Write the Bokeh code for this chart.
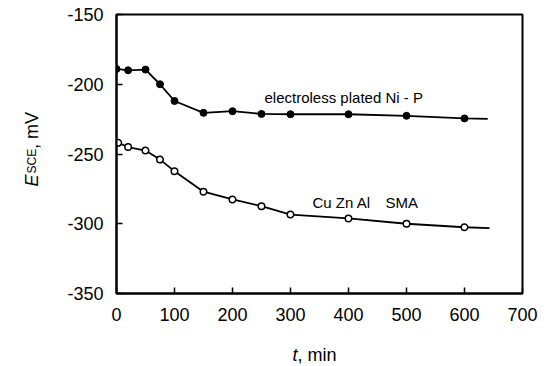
from bokeh.plotting import figure
from bokeh.models import Range1d, Label, FixedTicker
from bokeh.layouts import row, column
from bokeh.embed import file_html
from bokeh.resources import INLINE
import math

# Data
t_nip = [0, 20, 50, 75, 100, 150, 200, 250, 300, 400, 500, 600]
e_nip = [-189, -190, -189.5, -200, -212, -220.5, -219.3, -221.3, -221.5, -221.5, -222.6, -224.5]
t_nip_end = 640
e_nip_end = -224.8

t_sma = [3, 20, 50, 75, 100, 150, 200, 250, 300, 400, 500, 600]
e_sma = [-242, -245, -247.5, -254, -262.3, -277, -282.6, -287.4, -293.4, -296.2, -300, -302.5]
t_sma_end = 643
e_sma_end = -303.2

x_ticks = [0, 100, 200, 300, 400, 500, 600, 700]
y_ticks = [-350, -300, -250, -200, -150]
y_tick_labels = ["-350", "-300", "-250", "-200", "-150"]

FONT = "Liberation Sans"

# ---------------- main plot ----------------
p = figure(width=499, height=340, title=None, frame_align=False,
           min_border_left=71, min_border_right=22, min_border_top=14, min_border_bottom=47,
           x_range=Range1d(0, 700), y_range=Range1d(-350, -150),
           output_backend="svg", toolbar_location=None)
p.background_fill_color = "white"
p.border_fill_color = "white"
p.xgrid.visible = False
p.ygrid.visible = False
p.outline_line_color = "black"
p.outline_line_width = 2
p.outline_line_alpha = 1

for ax in (p.xaxis[0], p.yaxis[0]):
    ax.axis_line_width = 2
    ax.axis_line_color = "black"
    ax.major_tick_in = 6
    ax.major_tick_out = 0
    ax.minor_tick_in = 0
    ax.minor_tick_out = 0
    ax.major_tick_line_width = 1.5
    ax.major_label_text_font = FONT
    ax.major_label_text_font_size = "18px"
    ax.major_label_text_color = "black"

p.xaxis.ticker = FixedTicker(ticks=x_ticks)
p.yaxis.ticker = FixedTicker(ticks=y_ticks)
p.yaxis.major_label_overrides = {v: s for v, s in zip(y_ticks, y_tick_labels)}
p.xaxis.major_label_standoff = 14
p.yaxis.major_label_standoff = 13

p.line(t_nip + [t_nip_end], e_nip + [e_nip_end], line_color="black", line_width=1.8)
p.line(t_sma + [t_sma_end], e_sma + [e_sma_end], line_color="black", line_width=1.8)
p.scatter(t_nip, e_nip, marker="circle", size=7, fill_color="black", line_color="black")
p.scatter(t_sma, e_sma, marker="circle", size=6.5, fill_color="white", line_color="black", line_width=1.5)

# page pixel -> data, for in-frame annotations
def dx(px):
    return (px - 117) * 700 / 406

def dy(py):
    return -150 - (py - 15) * 200 / 279

for txt, px, py in [("electroless plated Ni - P", 265, 98), ("Cu Zn Al", 313, 203), ("SMA", 386, 203)]:
    p.add_layout(Label(x=dx(px), y=dy(py), text=txt, text_font=FONT, text_font_size="15px",
                       text_baseline="middle", text_align="left", text_color="black"))

# ---------------- helper figures for axis titles ----------------
def blank(w, h):
    f = figure(width=w, height=h, title=None, frame_align=False,
               x_range=Range1d(0, w), y_range=Range1d(0, h),
               min_border=0, min_border_left=0, min_border_right=0,
               min_border_top=0, min_border_bottom=0,
               x_axis_location=None, y_axis_location=None,
               output_backend="svg", toolbar_location=None)
    f.xgrid.visible = False
    f.ygrid.visible = False
    f.outline_line_color = None
    f.background_fill_color = "white"
    f.border_fill_color = "white"
    return f

# y title
yf = blank(45, 340)
bx = 32 - 1
def yy(py):
    return 341 - py
yf.add_layout(Label(x=bx, y=yy(187), text="E", text_font=FONT, text_font_style="italic",
                    text_font_size="18px", angle=math.pi / 2, text_align="left",
                    text_baseline="alphabetic", text_color="black"))
yf.add_layout(Label(x=bx, y=yy(174), text="SCE", text_font=FONT, text_font_size="12px",
                    angle=math.pi / 2, text_align="left",
                    text_baseline="alphabetic", text_color="black"))
yf.add_layout(Label(x=bx, y=yy(149.5), text=", mV", text_font=FONT, text_font_size="18px",
                    angle=math.pi / 2, text_align="left",
                    text_baseline="alphabetic", text_color="black"))

# x title
xf = blank(544, 24)
xbase = 10
xf.add_layout(Label(x=293 - 1, y=xbase, text="t", text_font=FONT, text_font_style="italic",
                    text_font_size="18px", text_align="left", text_baseline="alphabetic", text_color="black"))
xf.add_layout(Label(x=298 - 1, y=xbase, text=", min", text_font=FONT, text_font_size="18px",
                    text_align="left", text_baseline="alphabetic", text_color="black"))

layout = column(row(yf, p, spacing=0), xf, spacing=0)

open("out.html", "w").write(file_html(layout, INLINE))
